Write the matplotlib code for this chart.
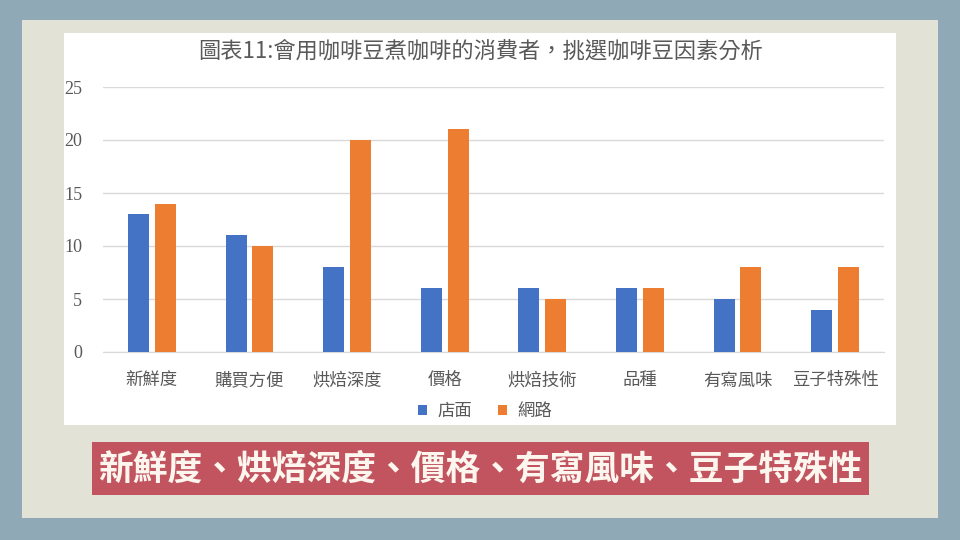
import matplotlib

matplotlib.use("Agg")

import matplotlib.pyplot as plt
import numpy as np
from matplotlib.patches import Rectangle

plt.rcParams["font.family"] = ["Noto Sans CJK TC", "DejaVu Sans"]

title = "圖表11:會用咖啡豆煮咖啡的消費者，挑選咖啡豆因素分析"
categories = ["新鮮度", "購買方便", "烘焙深度", "價格", "烘焙技術", "品種", "有寫風味", "豆子特殊性"]
store = [13, 11, 8, 6, 6, 6, 5, 4]
online = [14, 10, 20, 21, 5, 6, 8, 8]
series_names = ["店面", "網路"]
y_ticks = [0, 5, 10, 15, 20, 25]
banner_text = "新鮮度、烘焙深度、價格、有寫風味、豆子特殊性"

W, H = 960, 540
fig = plt.figure(figsize=(9.6, 5.4), dpi=100)
fig.patch.set_facecolor("#8fa9b6")


def box(x0, y0, x1, y1, color):
    # pixel coords, y from top
    fig.patches.append(Rectangle((x0 / W, 1 - y1 / H), (x1 - x0) / W, (y1 - y0) / H,
                                 transform=fig.transFigure, facecolor=color, edgecolor="none", zorder=-5))


box(22, 20, 938, 518, "#e2e3d6")
box(64, 33, 896, 425, "#ffffff")
box(92, 442, 869, 495, "#c1545f")

fig.text(481 / W, 1 - 51 / H, title, ha="center", va="center", fontsize=16, color="#595959")
fig.text(480 / W, 1 - 469 / H, banner_text, ha="center", va="center", fontsize=25,
         color="#fdf6ee", fontweight="bold")

ax = fig.add_axes([103 / W, 1 - 352 / H, 781 / W, 265 / H])
ax.set_facecolor("none")
x = np.arange(len(categories))
w = 0.215
ax.bar(x - w / 2 - 0.03, store, width=w, color="#4472c4", label=series_names[0], zorder=3)
ax.bar(x + w / 2 + 0.03, online, width=w, color="#ed7d31", label=series_names[1], zorder=3)

ax.set_xlim(-0.5, len(categories) - 0.5)
ax.set_ylim(0, 25)
ax.set_yticks(y_ticks)
ax.set_yticklabels([str(v) for v in y_ticks], family=["Liberation Serif"], fontsize=13, color="#595959")
ax.set_xticks(x)
ax.set_xticklabels(categories, fontsize=12.5, color="#595959")
ax.tick_params(axis="both", length=0)
ax.tick_params(axis="y", pad=15)
ax.tick_params(axis="x", pad=14)
ax.grid(axis="y", color="#d9d9d9", linewidth=1, zorder=0)
for side in ["top", "right", "left"]:
    ax.spines[side].set_visible(False)
ax.spines["bottom"].set_color("#d9d9d9")

ax.legend(loc="center", bbox_to_anchor=(485 / W, 1 - 411 / H), bbox_transform=fig.transFigure,
          ncol=2, frameon=False, fontsize=12.5, handlelength=0.5, handleheight=0.5,
          handletextpad=0.6, columnspacing=1.5, labelcolor="#595959")

fig.savefig("out.png", dpi=100, facecolor=fig.get_facecolor())
